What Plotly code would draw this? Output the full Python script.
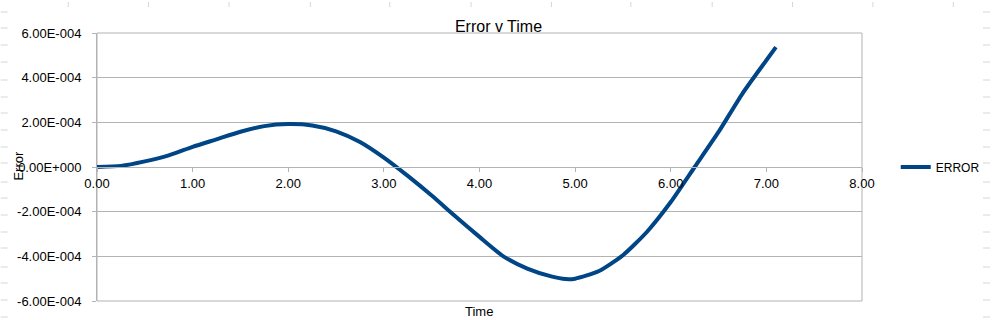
import plotly.graph_objects as go

# ---- data ----
time_vals = [0.0, 0.25, 0.5, 0.75, 1.0, 1.25, 1.5, 1.75, 2.0, 2.25, 2.5, 2.75,
             3.0, 3.25, 3.5, 3.75, 4.0, 4.25, 4.5, 4.75, 4.9, 5.0, 5.25, 5.5,
             5.75, 6.0, 6.25, 6.5, 6.75, 7.0, 7.1]
error_vals = [0.0, 0.05e-4, 0.25e-4, 0.52e-4, 0.90e-4, 1.24e-4, 1.58e-4, 1.83e-4,
              1.92e-4, 1.86e-4, 1.60e-4, 1.12e-4, 0.42e-4, -0.40e-4, -1.28e-4,
              -2.22e-4, -3.13e-4, -4.00e-4, -4.55e-4, -4.90e-4, -5.02e-4, -5.00e-4,
              -4.66e-4, -3.95e-4, -2.91e-4, -1.57e-4, 0.0, 1.57e-4, 3.29e-4,
              4.78e-4, 5.37e-4]
series_name = "ERROR"
y_tick_vals = [6e-4, 4e-4, 2e-4, 0.0, -2e-4, -4e-4, -6e-4]
y_tick_text = ["6.00E-004", "4.00E-004", "2.00E-004", "0.00E+000",
               "-2.00E-004", "-4.00E-004", "-6.00E-004"]
x_tick_vals = [0, 1, 2, 3, 4, 5, 6, 7, 8]

W, H = 997, 320
ML, MR, MT, MB = 97, 129, 33, 19
PW, PH = W - ML - MR, H - MT - MB
FONT = "Liberation Sans, Arial, sans-serif"
GRID = "#b3b3b3"


def px_x(p):
    return (p - ML) / PW


def px_y(p):
    return (H - MB - p) / PH


fig = go.Figure()
fig.add_trace(go.Scatter(
    x=time_vals, y=error_vals, mode="lines", name=series_name,
    line=dict(color="#004586", width=4, shape="spline", smoothing=0.6),
))

shapes = []
# spreadsheet cell marks around the chart (background decoration)
cell_col = "#d6d6d6"
for cx in [68, 149, 230, 312, 392, 474, 555, 635, 717, 798, 879, 960]:
    shapes.append(dict(type="line", xref="paper", yref="paper",
                       x0=px_x(cx), x1=px_x(cx), y0=px_y(2), y1=px_y(7),
                       line=dict(color=cell_col, width=1)))
for cy in [12, 28, 45, 62, 80, 97, 113, 130, 147, 163, 182, 198, 215, 232,
           248, 267, 283, 300, 317]:
    shapes.append(dict(type="line", xref="paper", yref="paper",
                       x0=px_x(0), x1=px_x(7), y0=px_y(cy), y1=px_y(cy),
                       line=dict(color=cell_col, width=1)))
    shapes.append(dict(type="line", xref="paper", yref="paper",
                       x0=px_x(990), x1=px_x(997), y0=px_y(cy), y1=px_y(cy),
                       line=dict(color=cell_col, width=1)))
# plot-area frame
shapes.append(dict(type="rect", xref="paper", yref="paper", x0=0, x1=1, y0=0, y1=1,
                   line=dict(color=GRID, width=1), layer="below"))

fig.update_layout(
    width=W, height=H,
    margin=dict(l=ML, r=MR, t=MT, b=MB, pad=0),
    paper_bgcolor="white", plot_bgcolor="white",
    font=dict(family=FONT, size=13, color="#000000"),
    title=dict(text="Error v Time", x=0.5, xref="container", xanchor="center",
               y=1 - 26 / H, yref="container", yanchor="middle",
               font=dict(size=16, family=FONT, color="#000000")),
    showlegend=True,
    legend=dict(x=px_x(902), xanchor="left", y=0.5, yanchor="middle",
                font=dict(size=12, family=FONT), bgcolor="rgba(0,0,0,0)",
                itemwidth=30, tracegroupgap=0),
    xaxis=dict(range=[0, 8], tickvals=x_tick_vals, tickformat=".2f",
               showgrid=False, zeroline=False, showline=True, linecolor=GRID,
               ticks="outside", ticklen=4, tickcolor=GRID,
               anchor="free", position=0.5,
               tickfont=dict(size=13, family=FONT), fixedrange=True),
    yaxis=dict(range=[-6e-4, 6e-4], tickvals=y_tick_vals, ticktext=y_tick_text,
               showgrid=True, gridcolor=GRID, gridwidth=1, zeroline=False,
               showline=True, linecolor=GRID, ticks="outside", ticklen=4,
               tickcolor=GRID, ticklabelstandoff=8,
               tickfont=dict(size=13, family=FONT), fixedrange=True),
    shapes=shapes,
    annotations=[
        dict(text="Error", xref="paper", yref="paper", x=px_x(17), y=px_y(166),
             xanchor="center", yanchor="middle", textangle=-90, showarrow=False,
             font=dict(size=13, family=FONT)),
        dict(text="Time", xref="paper", yref="paper", x=px_x(482), y=px_y(311),
             xanchor="center", yanchor="middle", showarrow=False,
             font=dict(size=13, family=FONT)),
    ],
)

fig.write_html("out.html")
